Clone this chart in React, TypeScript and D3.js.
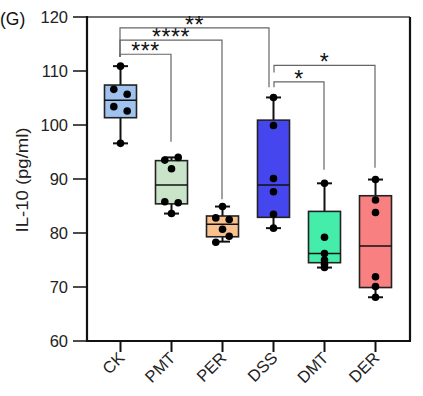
import React from "react";
import * as d3 from "d3";

const categories = ["CK", "PMT", "PER", "DSS", "DMT", "DER"];
const boxFill = ["#9fc2ee", "#c9e4c9", "#f8c18e", "#4646ee", "#44eeaa", "#f98080"];
const q1 = [101.35, 85.4, 79.3, 82.9, 74.5, 69.9];
const median = [104.6, 88.9, 81.6, 88.9, 76.2, 77.6];
const q3 = [107.4, 93.4, 83.15, 100.9, 84.0, 86.9];
const whiskerLow = [96.6, 83.6, 78.4, 80.9, 73.6, 68.1];
const whiskerHigh = [110.9, 94.0, 84.9, 105.1, 89.2, 89.9];

const pointValues = [
  [110.9, 106.6, 105.7, 103.4, 102.6, 96.6],
  [94.0, 93.5, 91.9, 85.8, 85.6, 83.6],
  [84.9, 82.8, 82.5, 80.7, 79.4, 78.3],
  [105.1, 99.9, 90.1, 87.65, 83.45, 80.9],
  [89.2, 79.2, 76.2, 75.0, 74.2, 73.6],
  [89.9, 86.1, 83.8, 71.9, 70.1, 68.1],
];
// jitter column (-1 left, 0 center, 1 right)
const pointColumn = [
  [0, -1, 1, -1, 1, 0],
  [1, -1, 0, -1, 1, 0],
  [0, -1, 1, 0, 1, -1],
  [0, 0, 0, 0, 0, 0],
  [0, 0, 0, 0, 0, 0],
  [0, 0, 0, 0, 0, 0],
];

const bracketFrom = [0, 0, 0, 3, 3];
const bracketTo = [1, 2, 3, 4, 5];
const bracketLevel = [113.1, 115.7, 118.0, 108.0, 111.05];
const bracketLeftEnd = [112.6, 112.6, 112.6, 107.0, 109.7];
const bracketRightEnd = [96.9, 86.25, 107.0, 91.7, 92.1];
const bracketLabel = ["***", "****", "**", "*", "*"];

const yTicks = [60, 70, 80, 90, 100, 110, 120];

const W = 423;
const H = 396;
const font = "'Liberation Sans', Arial, sans-serif";

export default function App() {
  const x = d3.scalePoint<string>().domain(categories).range([120.5, 375.5]);
  const y = d3.scaleLinear().domain([60, 120]).range([341, 17]);
  const left = 87;
  const right = 410;
  const boxW = 32;
  const capW = 15;
  const jitter = 6.7;

  return (
    <svg
      width={W}
      height={H}
      style={{ position: "absolute", left: 0, top: 0, background: "#fff" }}
      fontFamily={font}
    >
      <rect width={W} height={H} fill="#fff" />
      {/* panel label */}
      <text x={0} y={25} fontSize={17.5} fill="#111">(G)</text>

      {/* frame top & right */}
      <line x1={left} x2={right} y1={y(120)} y2={y(120)} stroke="#444" strokeWidth={1.3} />
      <line x1={right} x2={right} y1={y(120)} y2={y(60)} stroke="#111" strokeWidth={2.2} />

      {/* significance brackets */}
      {bracketFrom.map((f, i) => {
        const t = bracketTo[i];
        const lx = (x(categories[f]) as number) + (f === 3 ? 1 : 0) - 0.5;
        const rx = (x(categories[t]) as number) - (t === 3 ? 4 : 0) - 0.5;
        const ly = y(bracketLevel[i]);
        return (
          <g key={"b" + i}>
            <path
              d={`M${lx},${y(bracketLeftEnd[i])}V${ly}H${rx}V${y(bracketRightEnd[i])}`}
              fill="none"
              stroke="#666"
              strokeWidth={1.2}
            />
            <text
              x={(lx + rx) / 2}
              y={ly + 5}
              textAnchor="middle"
              fontSize={23}
              fill="#111"
              letterSpacing={0.5}
            >
              {bracketLabel[i]}
            </text>
          </g>
        );
      })}

      {/* boxes */}
      {categories.map((c, i) => {
        const cx = x(c) as number;
        return (
          <g key={c}>
            <line x1={cx} x2={cx} y1={y(whiskerHigh[i])} y2={y(q3[i])} stroke="#111" strokeWidth={2} />
            <line x1={cx} x2={cx} y1={y(q1[i])} y2={y(whiskerLow[i])} stroke="#111" strokeWidth={2} />
            <line x1={cx - capW / 2} x2={cx + capW / 2} y1={y(whiskerHigh[i])} y2={y(whiskerHigh[i])} stroke="#111" strokeWidth={2} />
            <line x1={cx - capW / 2} x2={cx + capW / 2} y1={y(whiskerLow[i])} y2={y(whiskerLow[i])} stroke="#111" strokeWidth={2} />
            <rect
              x={cx - boxW / 2}
              y={y(q3[i])}
              width={boxW}
              height={y(q1[i]) - y(q3[i])}
              fill={boxFill[i]}
              stroke="#222"
              strokeWidth={1.6}
            />
            <line x1={cx - boxW / 2} x2={cx + boxW / 2} y1={y(median[i])} y2={y(median[i])} stroke="#111" strokeWidth={1.5} />
            {pointValues[i].map((v, j) => (
              <circle key={j} cx={cx + pointColumn[i][j] * jitter} cy={y(v)} r={3.8} fill="#000" />
            ))}
          </g>
        );
      })}

      {/* y axis */}
      <line x1={left} x2={left} y1={y(120) - 1} y2={y(60) + 1} stroke="#111" strokeWidth={2.2} />
      {yTicks.map((t) => (
        <g key={t}>
          <line x1={73} x2={left} y1={y(t)} y2={y(t)} stroke="#111" strokeWidth={1.5} />
          <text x={68} y={y(t) + 6} textAnchor="end" fontSize={16.5} fill="#222">
            {t}
          </text>
        </g>
      ))}

      {/* x axis */}
      <line x1={left} x2={right + 1} y1={y(60)} y2={y(60)} stroke="#111" strokeWidth={2.2} />
      {categories.map((c) => {
        const cx = x(c) as number;
        return (
          <g key={"xt" + c}>
            <line x1={cx} x2={cx} y1={y(60)} y2={y(60) + 11} stroke="#111" strokeWidth={2} />
            <text
              transform={`translate(${cx + 5},${y(60) + 18}) rotate(-45)`}
              textAnchor="end"
              fontSize={16.5}
              fill="#222"
            >
              {c}
            </text>
          </g>
        );
      })}

      {/* y label */}
      <text
        transform={`translate(28,${(y(60) + y(120)) / 2 + 1}) rotate(-90)`}
        textAnchor="middle"
        fontSize={16.5}
        fill="#222"
        textLength={105}
        lengthAdjust="spacingAndGlyphs"
      >
        IL-10 (pg/ml)
      </text>
    </svg>
  );
}
